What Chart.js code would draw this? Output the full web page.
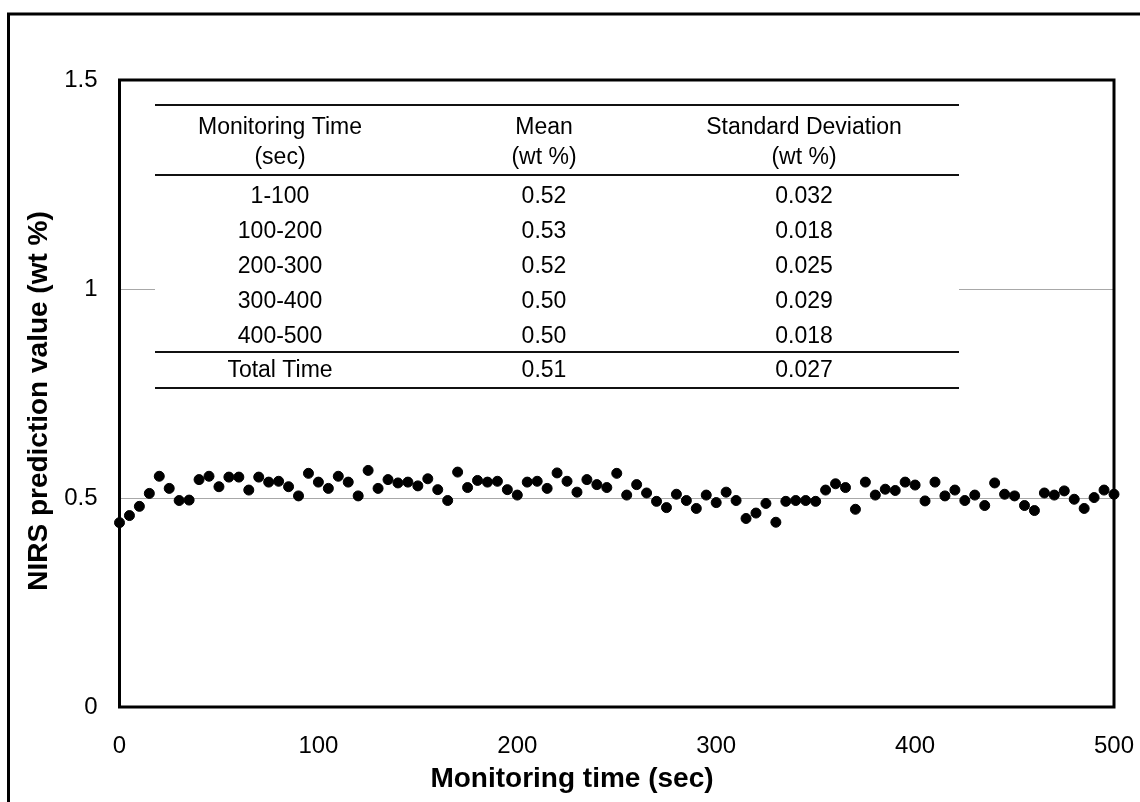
<!DOCTYPE html>
<html>
<head>
<meta charset="utf-8">
<script src="https://cdn.jsdelivr.net/npm/chart.js@4/dist/chart.umd.min.js"></script>
<style>
  html, body { margin: 0; padding: 0; background: #fff; }
  canvas { display: block; }
</style>
</head>
<body>
<canvas id="chart_nirs_monitoring" width="1140" height="802"></canvas>
<script>
// monitoring time (sec), one reading every 5 sec
const times = [
  0, 5, 10, 15, 20, 25, 30, 35, 40, 45, 50, 55, 60, 65, 70, 75, 80, 85, 90, 95,
  100, 105, 110, 115, 120, 125, 130, 135, 140, 145, 150, 155, 160, 165, 170, 175, 180, 185, 190, 195,
  200, 205, 210, 215, 220, 225, 230, 235, 240, 245, 250, 255, 260, 265, 270, 275, 280, 285, 290, 295,
  300, 305, 310, 315, 320, 325, 330, 335, 340, 345, 350, 355, 360, 365, 370, 375, 380, 385, 390, 395,
  400, 405, 410, 415, 420, 425, 430, 435, 440, 445, 450, 455, 460, 465, 470, 475, 480, 485, 490, 495,
  500
];

// NIRS prediction value (wt %)
const predictions = [
  0.441, 0.458, 0.480, 0.511, 0.552, 0.523, 0.494, 0.495, 0.544, 0.552, 0.527, 0.550, 0.550, 0.519, 0.550, 0.538, 0.540, 0.527, 0.505, 0.559,
  0.538, 0.523, 0.552, 0.538, 0.505, 0.566, 0.523, 0.544, 0.536, 0.538, 0.529, 0.546, 0.520, 0.494, 0.562, 0.525, 0.542, 0.538, 0.540, 0.520,
  0.507, 0.538, 0.540, 0.523, 0.560, 0.540, 0.514, 0.544, 0.532, 0.525, 0.559, 0.507, 0.532, 0.512, 0.492, 0.477, 0.509, 0.494, 0.475, 0.507,
  0.489, 0.514, 0.494, 0.451, 0.464, 0.487, 0.442, 0.492, 0.494, 0.494, 0.492, 0.519, 0.534, 0.525, 0.473, 0.538, 0.507, 0.521, 0.518, 0.538,
  0.531, 0.493, 0.538, 0.505, 0.519, 0.494, 0.507, 0.482, 0.536, 0.509, 0.505, 0.482, 0.470, 0.512, 0.507, 0.517, 0.497, 0.475, 0.501, 0.519,
  0.509
];

// summary table
const tableHeader1 = ['Monitoring Time', 'Mean', 'Standard Deviation'];
const tableHeader2 = ['(sec)', '(wt %)', '(wt %)'];
const periods = ['1-100', '100-200', '200-300', '300-400', '400-500'];
const periodMeans = ['0.52', '0.53', '0.52', '0.50', '0.50'];
const periodStdDevs = ['0.032', '0.018', '0.025', '0.029', '0.018'];
const totalRow = ['Total Time', '0.51', '0.027'];

const xTitle = 'Monitoring time (sec)';
const yTitle = 'NIRS prediction value (wt %)';

const fontFamily = "Arial, 'Liberation Sans', Helvetica, sans-serif";

const chartFrame = {
  id: 'chartFrame',
  beforeDraw(chart) {
    let ctx = chart.ctx;
    ctx.save();
    ctx.fillStyle = '#fff';
    ctx.fillRect(0, 0, chart.width, chart.height);
    // outer frame, runs off the right and bottom edges
    ctx.strokeStyle = '#000';
    ctx.lineWidth = 3;
    ctx.strokeRect(8.5, 14, 1300, 1000);
    ctx.restore();
  },
  beforeDatasetsDraw(chart) {
    let ctx = chart.ctx,
        area = chart.chartArea;
    ctx.save();

    // summary table on a white patch
    let left = 155, right = 959;
    let cols = [280, 544, 804];
    ctx.fillStyle = '#fff';
    ctx.fillRect(left, 104, right - left, 286);

    ctx.strokeStyle = '#111';
    ctx.lineWidth = 2;
    [105, 175, 352, 388].forEach(y => {
      ctx.beginPath();
      ctx.moveTo(left, y);
      ctx.lineTo(right, y);
      ctx.stroke();
    });

    ctx.fillStyle = '#000';
    ctx.font = '23px ' + fontFamily;
    ctx.textAlign = 'center';
    ctx.textBaseline = 'middle';
    cols.forEach((cx, i) => {
      ctx.fillText(tableHeader1[i], cx, 128);
      ctx.fillText(tableHeader2[i], cx, 158);
    });
    periods.forEach((p, r) => {
      let y = 197 + r * 34.8;
      ctx.fillText(p, cols[0], y);
      ctx.fillText(periodMeans[r], cols[1], y);
      ctx.fillText(periodStdDevs[r], cols[2], y);
    });
    totalRow.forEach((t, i) => ctx.fillText(t, cols[i], 371));

    // plot border
    ctx.strokeStyle = '#000';
    ctx.lineWidth = 3;
    ctx.strokeRect(area.left, area.top, area.right - area.left, area.bottom - area.top);

    // axis titles
    ctx.font = 'bold 28px ' + fontFamily;
    ctx.fillText(xTitle, 572, 779.5);
    ctx.translate(39, 401);
    ctx.rotate(-Math.PI / 2);
    ctx.fillText(yTitle, 0, 0);

    ctx.restore();
  }
};

let data = {
  datasets: [
    {
      data: times.map((t, i) => ({ x: t, y: predictions[i] })),
      backgroundColor: '#000',
      borderColor: '#000',
      borderWidth: 1,
      pointRadius: 5,
      pointHoverRadius: 5,
      clip: false
    }
  ]
};

let options = {
  responsive: false,
  animation: false,
  layout: {
    padding: { top: 80, right: 26, left: 0, bottom: 0 }
  },
  plugins: {
    legend: { display: false },
    tooltip: { enabled: false }
  },
  scales: {
    x: {
      type: 'linear',
      min: 0,
      max: 500,
      grid: { display: false },
      border: { display: false },
      ticks: {
        stepSize: 100,
        color: '#000',
        padding: 17,
        maxRotation: 0,
        font: { family: fontFamily, size: 24 }
      },
      afterFit(scale) {
        scale.height = 95;
        scale.paddingLeft = 0;
        scale.paddingRight = 0;
      }
    },
    y: {
      min: 0,
      max: 1.5,
      grid: { color: '#a8a8a8', lineWidth: 1, drawTicks: false },
      border: { display: false },
      ticks: {
        stepSize: 0.5,
        color: '#000',
        padding: 22,
        font: { family: fontFamily, size: 24 },
        callback: value => String(value)
      },
      afterFit(scale) {
        scale.width = 119.5;
        scale.paddingTop = 0;
        scale.paddingBottom = 0;
      }
    }
  }
};

new Chart('chart_nirs_monitoring', { type: 'scatter', plugins: [chartFrame], data, options });
</script>
</body>
</html>
